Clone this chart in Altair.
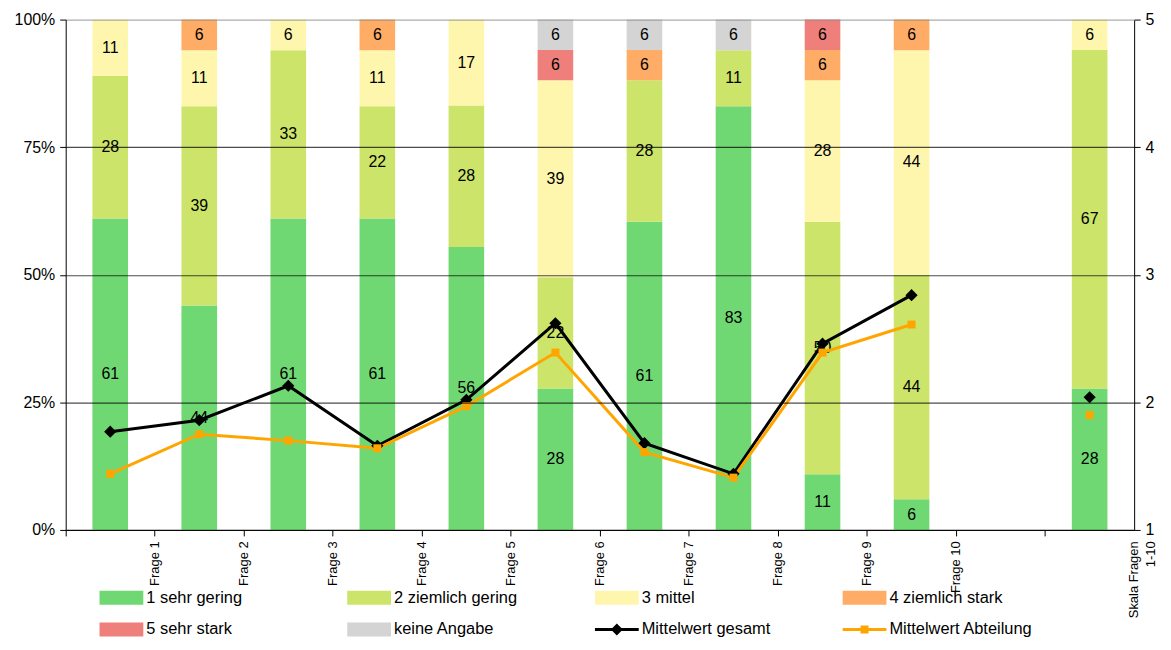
import altair as alt
import pandas as pd

# ---------------- data ----------------
fragen = ["Frage 1", "Frage 2", "Frage 3", "Frage 4", "Frage 5", "Frage 6",
          "Frage 7", "Frage 8", "Frage 9", "Frage 10", " ", "Skala Fragen 1-10"]
balken_fragen = ["Frage 1", "Frage 2", "Frage 3", "Frage 4", "Frage 5", "Frage 6",
                 "Frage 7", "Frage 8", "Frage 9", "Frage 10", "Skala Fragen 1-10"]
kategorien = ["1 sehr gering", "2 ziemlich gering", "3 mittel",
              "4 ziemlich stark", "5 sehr stark", "keine Angabe"]
sehr_gering     = [61, 44, 61, 61, 56, 28, 61, 83, 11, 6, 28]
ziemlich_gering = [28, 39, 33, 22, 28, 22, 28, 11, 50, 44, 67]
mittel          = [11, 11, 6, 11, 17, 39, 0, 0, 28, 44, 6]
ziemlich_stark  = [0, 6, 0, 6, 0, 0, 6, 0, 6, 6, 0]
sehr_stark      = [0, 0, 0, 0, 0, 6, 0, 0, 6, 0, 0]
keine_angabe    = [0, 0, 0, 0, 0, 6, 6, 6, 0, 0, 0]

serien = ["Mittelwert gesamt", "Mittelwert Abteilung"]
mw_gesamt    = [1.77, 1.86, 2.13, 1.66, 2.02, 2.62, 1.68, 1.44, 2.46, 2.84, 2.04]
mw_abteilung = [1.44, 1.75, 1.70, 1.64, 1.97, 2.39, 1.61, 1.41, 2.39, 2.61, 1.90]

farben = ["#70D873", "#CCE46A", "#FFF6AE", "#FFAD66", "#EE7F7A", "#D4D4D4",
          "#000000", "#FFA500"]

# ---------------- tables ----------------
rows = []
for idx, (kat, vals) in enumerate(zip(kategorien, [sehr_gering, ziemlich_gering, mittel,
                                                    ziemlich_stark, sehr_stark, keine_angabe])):
    for f, v in zip(balken_fragen, vals):
        if v > 0:
            rows.append({"frage": f, "kategorie": kat, "wert": v, "ordnung": idx})
balken_df = pd.DataFrame(rows)

mrows = []
for s, vals in zip(serien, [mw_gesamt, mw_abteilung]):
    for f, v in zip(balken_fragen, vals):
        mrows.append({"frage": f, "kategorie": s, "wert": v})
mw_df = pd.DataFrame(mrows)

legende_df = pd.DataFrame({"kategorie": kategorien + serien})

# ---------------- scales / axes ----------------
FONT = "Liberation Sans"
W, H = 1074, 513
STEP = W / len(fragen)
color_scale = alt.Scale(domain=kategorien + serien, range=farben)

rect_path = "M-2.2,-0.7H2.2V0.7H-2.2Z"
diamond_line = "M-2.2,-0.15H2.2V0.15H-2.2Z M0,-0.6L0.6,0L0,0.6L-0.6,0Z"
square_line = "M-2.2,-0.15H2.2V0.15H-2.2Z M-0.4,-0.4H0.4V0.4H-0.4Z"
shape_scale = alt.Scale(domain=kategorien + serien,
                        range=[rect_path] * 6 + [diamond_line, square_line])

x_scale = alt.Scale(domain=fragen, paddingInner=0, paddingOuter=0)
x_axis = alt.Axis(title=None, bandPosition=0, labelOffset=STEP / 2,
                  tickSize=6, tickColor="black", domainColor="black", labelFontSize=13,
                  labelColor="black", labelPadding=5, labelLineHeight=17,
                  labelExpr="datum.value == 'Skala Fragen 1-10' ? ['Skala Fragen', '1-10'] : datum.label")
x_enc = alt.X("frage:N", scale=x_scale, axis=x_axis)

yl_scale = alt.Scale(domain=[0, 1], nice=False)
yl_axis = alt.Axis(title=None, orient="left", values=[0, 0.25, 0.5, 0.75, 1],
                   format=".0%", grid=True,
                   gridColor={"condition": {"test": "datum.value >= 1", "value": "#8a8a8a"},
                              "value": "#000000"},
                   gridOpacity=0.7, gridWidth=1.2,
                   tickColor="black", tickSize=6, domainColor="black",
                   labelFontSize=16, labelColor="black", labelPadding=5, zindex=1)

yr_scale = alt.Scale(domain=[1, 5], nice=False)
yr_axis = alt.Axis(title=None, orient="right", values=[1, 2, 3, 4, 5], format="d",
                   grid=False, tickColor="black", tickSize=6, domainColor="black",
                   labelFontSize=16, labelColor="black", labelPadding=5)

legende = alt.Legend(title=None, orient="none", legendX=46, legendY=571,
                     direction="horizontal", columns=4, gridAlign="all",
                     columnPadding=58, rowPadding=13, symbolSize=400,
                     symbolStrokeWidth=0, symbolOpacity=1, labelOffset=15,
                     labelFontSize=16.5, labelFont=FONT, labelColor="black",
                     labelLimit=300, padding=0)

# ---------------- legend carrier (invisible points, first layer) ----------------
legenden_traeger = alt.Chart(legende_df).mark_point(filled=True, opacity=0).encode(
    color=alt.Color("kategorie:N", scale=color_scale, legend=legende),
    shape=alt.Shape("kategorie:N", scale=shape_scale, legend=legende),
)

# ---------------- stacked bars ----------------
basis = alt.Chart(balken_df).transform_stack(
    stack="wert", as_=["y0", "y1"], groupby=["frage"], offset="normalize",
    sort=[alt.SortField("ordnung", order="ascending")]
)

balken = basis.mark_bar(width=alt.RelativeBandSize(0.4)).encode(
    x=x_enc,
    y=alt.Y("y0:Q", scale=yl_scale, axis=yl_axis),
    y2="y1:Q",
    color=alt.Color("kategorie:N", scale=color_scale),
)

beschriftung = basis.transform_calculate(
    mitte="(datum.y0 + datum.y1) / 2"
).mark_text(font=FONT, fontSize=16, color="black", baseline="middle", align="center").encode(
    x=x_enc,
    y=alt.Y("mitte:Q", scale=yl_scale, axis=None),
    text="wert:Q",
)

# ---------------- mean lines ----------------
linien = alt.Chart(mw_df).transform_filter(
    "datum.frage != 'Skala Fragen 1-10'"
).mark_line(strokeWidth=3).encode(
    x=x_enc,
    y=alt.Y("wert:Q", scale=yr_scale, axis=yr_axis),
    color=alt.Color("kategorie:N", scale=color_scale),
)

punkte_g = alt.Chart(mw_df).transform_filter(
    "datum.kategorie == 'Mittelwert gesamt'"
).mark_point(filled=True, shape="diamond", size=150, opacity=1).encode(
    x=x_enc,
    y=alt.Y("wert:Q", scale=yr_scale, axis=None),
    color=alt.Color("kategorie:N", scale=color_scale),
)

punkte_a = alt.Chart(mw_df).transform_filter(
    "datum.kategorie == 'Mittelwert Abteilung'"
).mark_point(filled=True, shape="square", size=64, opacity=1).encode(
    x=x_enc,
    y=alt.Y("wert:Q", scale=yr_scale, axis=None),
    color=alt.Color("kategorie:N", scale=color_scale),
)

chart = alt.layer(
    legenden_traeger, balken, beschriftung, linien, punkte_g, punkte_a
).resolve_scale(y="independent").properties(
    width=W, height=H,
    padding={"left": 6, "top": 2, "right": 5, "bottom": 0},
).configure_view(stroke="transparent").configure_axis(
    labelFont=FONT
)

chart.save("out.html", embed_options={"renderer": "svg", "actions": False})
